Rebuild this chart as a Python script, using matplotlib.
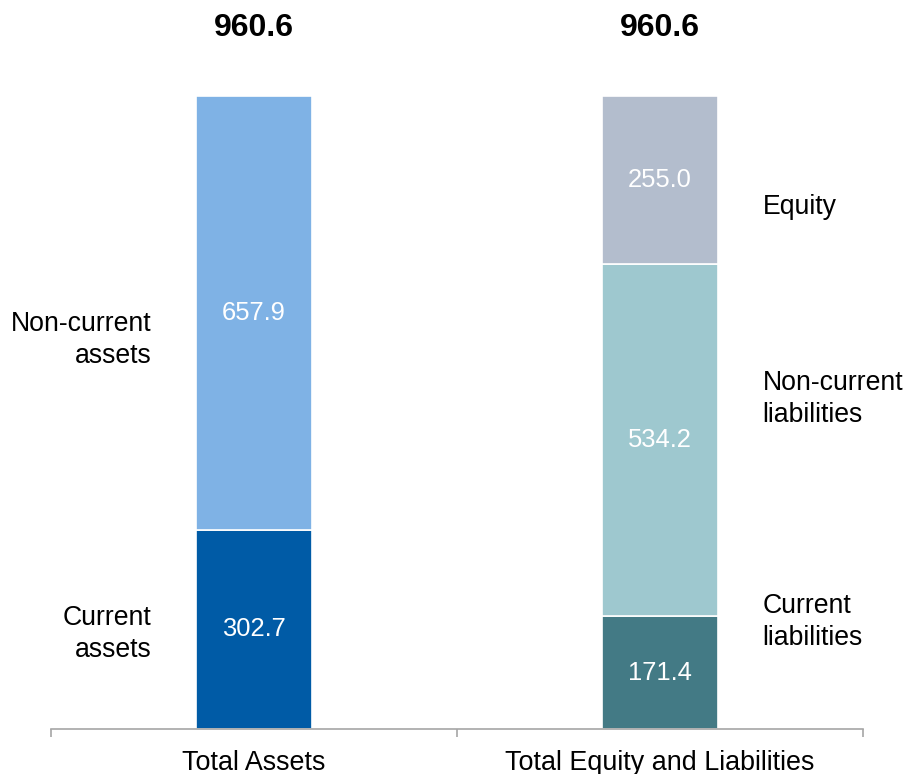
import matplotlib
matplotlib.use("Agg")
import matplotlib.pyplot as plt

plt.rcParams['font.family'] = ['Liberation Sans', 'DejaVu Sans']

categories = ["Total Assets", "Total Equity and Liabilities"]
totals = [960.6, 960.6]

asset_names = ["Current\nassets", "Non-current\nassets"]
asset_values = [302.7, 657.9]
asset_colors = ["#005BA6", "#7FB2E5"]

liab_names = ["Current\nliabilities", "Non-current\nliabilities", "Equity"]
liab_values = [171.4, 534.2, 255.0]
liab_colors = ["#437A85", "#9EC8CF", "#B3BDCD"]

# where the side captions sit (data units)
asset_label_y = [144, 590]
liab_label_y = [162, 501, 792]

fig = plt.figure(figsize=(9.07, 7.74), dpi=100)
ax = fig.add_axes([51 / 907, 45 / 774, 812 / 907, 633 / 774])

width = 0.286
grey = "#A6A6A6"

def stack(x, values, colors):
    bottom = 0
    for v, c in zip(values, colors):
        ax.bar(x, v, width, bottom=bottom, color=c, edgecolor="white", linewidth=1.2)
        ax.text(x, bottom + v / 2, f"{v:.1f}", color="white", ha="center", va="center", fontsize=18.4)
        bottom += v

stack(0, asset_values, asset_colors)
stack(1, liab_values, liab_colors)

for name, y in zip(asset_names, asset_label_y):
    ax.text(-0.253, y, name, ha="right", va="center", fontsize=19.2, linespacing=1.3)
for name, y in zip(liab_names, liab_label_y):
    ax.text(1.253, y, name, ha="left", va="center", fontsize=19.2, linespacing=1.3)

for i, t in enumerate(totals):
    ax.text(i, 1064, f"{t:.1f}", ha="center", va="center", fontsize=23, fontweight="bold", clip_on=False)

ax.set_xlim(-0.5, 1.5)
ax.set_ylim(0, 960.6)
ax.set_yticks([])
for s in ["top", "right", "left"]:
    ax.spines[s].set_visible(False)
ax.spines["bottom"].set_color(grey)
ax.spines["bottom"].set_linewidth(1.2)

ax.set_xticks([0, 1])
ax.set_xticklabels(categories, fontsize=19.4)
ax.tick_params(axis="x", which="major", length=0, pad=15)
ax.set_xticks([-0.5, 0.5, 1.5], minor=True)
ax.tick_params(axis="x", which="minor", length=6, width=1.2, color=grey, direction="out")

fig.savefig("out.png", dpi=100)
